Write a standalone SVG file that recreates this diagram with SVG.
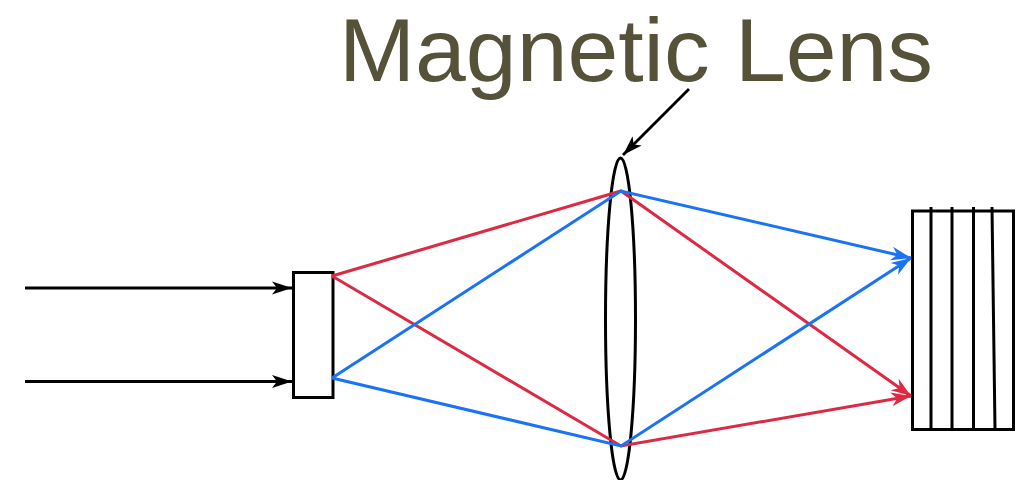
<svg xmlns="http://www.w3.org/2000/svg" width="1018" height="480" viewBox="0 0 1018 480">
<style>
.k{fill:none;stroke:#000;stroke-width:3}
.a{fill:none;stroke:#000;stroke-width:2.800}
.r{fill:none;stroke:#dc2a45;stroke-width:3}
.b{fill:none;stroke:#1a72f5;stroke-width:3}
.t{font-family:"Liberation Sans",Arial,sans-serif;font-size:89px;fill:#555239}
</style>
<defs>
<marker id="mk" markerUnits="userSpaceOnUse" markerWidth="22" markerHeight="16" refX="20" refY="8" orient="auto"><path d="M0 1.500L20 8L0 14.500L5 8Z" fill="#000"/></marker>
<marker id="mr" markerUnits="userSpaceOnUse" markerWidth="22" markerHeight="16" refX="20" refY="8" orient="auto"><path d="M0 1L20 8L0 15L6 8Z" fill="#dc2a45"/></marker>
<marker id="mb" markerUnits="userSpaceOnUse" markerWidth="22" markerHeight="16" refX="20" refY="8" orient="auto"><path d="M0 1L20 8L0 15L6 8Z" fill="#1a72f5"/></marker>
</defs>
<rect width="1018" height="480" fill="#fff"/>
<g id="title"><text class="t" x="339" y="80.600" textLength="594" lengthAdjust="spacingAndGlyphs">Magnetic Lens</text></g>
<g id="aperture"><rect class="k" x="293.500" y="272.500" width="39.500" height="125"/></g>
<g id="lens"><ellipse class="k" cx="620.500" cy="319" rx="15" ry="161"/></g>
<g id="detector">
<rect class="k" x="912.500" y="211" width="101" height="218.500"/>
<path class="k" d="M931 207V429M952 207V429M973.500 207V429M992 207L995 429"/>
</g>
<g id="connectors">
<path class="a" d="M25 288H292" marker-end="url(#mk)"/>
<path class="a" d="M25 381.500H292" marker-end="url(#mk)"/>
<path class="a" d="M689 89L623 155" marker-end="url(#mk)"/>
<path class="r" d="M332 276L621 191L911 396" marker-end="url(#mr)"/>
<path class="r" d="M332 276L621 446L911 396" marker-end="url(#mr)"/>
<path class="b" d="M332 378L621 191L911 258" marker-end="url(#mb)"/>
<path class="b" d="M332 378L621 446L911 258" marker-end="url(#mb)"/>
</g>
</svg>
